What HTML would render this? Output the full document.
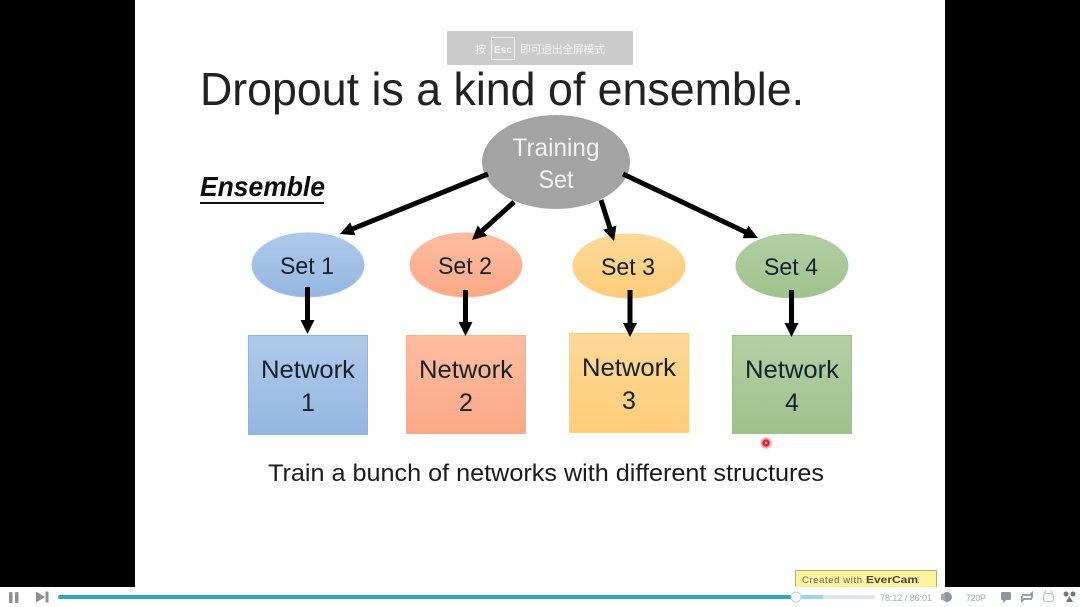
<!DOCTYPE html>
<html><head><meta charset="utf-8"><style>
html,body{margin:0;padding:0;background:#000;width:1080px;height:607px;overflow:hidden}
svg{display:block}
text{font-family:"Liberation Sans","Noto Sans CJK SC",sans-serif}
</style></head><body>
<svg width="1080" height="607" viewBox="0 0 1080 607" xmlns="http://www.w3.org/2000/svg">
<defs>
<linearGradient id="b" x1="0" y1="0" x2="0" y2="1"><stop offset="0" stop-color="#b0c9ea"/><stop offset="1" stop-color="#94b7e0"/></linearGradient>
<linearGradient id="o" x1="0" y1="0" x2="0" y2="1"><stop offset="0" stop-color="#fdbda0"/><stop offset="1" stop-color="#fca887"/></linearGradient>
<linearGradient id="y" x1="0" y1="0" x2="0" y2="1"><stop offset="0" stop-color="#fdd898"/><stop offset="1" stop-color="#fdcc78"/></linearGradient>
<linearGradient id="g" x1="0" y1="0" x2="0" y2="1"><stop offset="0" stop-color="#b2cfa4"/><stop offset="1" stop-color="#9ec28d"/></linearGradient>
<radialGradient id="dot"><stop offset="0.5" stop-color="#f0606e"/><stop offset="1" stop-color="#fff"/></radialGradient>
<marker id="ah" markerUnits="userSpaceOnUse" markerWidth="16" markerHeight="14" refX="1" refY="7" orient="auto"><path d="M0,0L14,7L0,14z" fill="#000"/></marker>
<filter id="soft" x="0" y="0" width="100%" height="100%"><feGaussianBlur stdDeviation="0.35"/></filter>
</defs>
<rect width="1080" height="607" fill="#000"/>
<g filter="url(#soft)">
<rect x="135" y="0" width="810" height="587" fill="#fff"/>

<text x="200" y="105" font-size="46" fill="#222" textLength="604" lengthAdjust="spacingAndGlyphs">Dropout is a kind of ensemble.</text>

<rect x="447" y="31" width="186" height="34" rx="1" fill="#cbcbcb"/>
<text x="475" y="53" font-size="11" fill="#f2f2f2">按</text>
<rect x="491.500" y="37.500" width="23" height="22" rx="1" fill="none" stroke="#eee"/>
<text x="503" y="53" font-size="10" font-weight="bold" fill="#f2f2f2" text-anchor="middle">Esc</text>
<text x="520" y="53" font-size="11" fill="#f2f2f2" textLength="85">即可退出全屏模式</text>

<text x="200" y="196" font-size="28" font-weight="bold" font-style="italic" fill="#111" textLength="125" lengthAdjust="spacingAndGlyphs">Ensemble</text>
<rect x="200" y="202" width="124" height="2" fill="#111"/>

<ellipse cx="556" cy="162" rx="74" ry="47" fill="#a3a3a3"/>
<text x="556" y="156" font-size="25" fill="#f2f2f2" text-anchor="middle" textLength="87" lengthAdjust="spacingAndGlyphs">Training</text>
<text x="556" y="188" font-size="25" fill="#f2f2f2" text-anchor="middle" textLength="35" lengthAdjust="spacingAndGlyphs">Set</text>

<ellipse cx="308" cy="265" rx="56" ry="32" fill="url(#b)" stroke="#a8c4e6"/>
<ellipse cx="466" cy="265" rx="56" ry="32" fill="url(#o)" stroke="#fbb89c"/>
<ellipse cx="629" cy="266" rx="56" ry="32" fill="url(#y)" stroke="#fbd48f"/>
<ellipse cx="792" cy="266" rx="56" ry="32" fill="url(#g)" stroke="#a9c89a"/>

<g font-size="24" fill="#15202c" text-anchor="middle">
<text x="307" y="274" textLength="54" lengthAdjust="spacingAndGlyphs">Set 1</text>
<text x="465" y="274" textLength="54" lengthAdjust="spacingAndGlyphs">Set 2</text>
<text x="628" y="275" textLength="54" lengthAdjust="spacingAndGlyphs">Set 3</text>
<text x="791" y="275" textLength="54" lengthAdjust="spacingAndGlyphs">Set 4</text>
</g>

<rect x="248.500" y="335.500" width="119" height="99" fill="url(#b)" stroke="#8fb3dc"/>
<rect x="406.500" y="335.500" width="119" height="98" fill="url(#o)" stroke="#fbb091"/>
<rect x="569.500" y="333.500" width="119" height="99" fill="url(#y)" stroke="#fbd083"/>
<rect x="732.500" y="335.500" width="119" height="98" fill="url(#g)" stroke="#9cbf8b"/>

<g font-size="25" fill="#15202c" text-anchor="middle">
<text x="308" y="378" textLength="94" lengthAdjust="spacingAndGlyphs">Network</text>
<text x="308" y="411">1</text>
<text x="466" y="378" textLength="94" lengthAdjust="spacingAndGlyphs">Network</text>
<text x="466" y="411">2</text>
<text x="629" y="376" textLength="94" lengthAdjust="spacingAndGlyphs">Network</text>
<text x="629" y="409">3</text>
<text x="792" y="378" textLength="94" lengthAdjust="spacingAndGlyphs">Network</text>
<text x="792" y="411">4</text>
</g>

<g stroke="#000" stroke-width="5" fill="none" marker-end="url(#ah)">
<line x1="488" y1="174" x2="352" y2="229.100"/>
<line x1="514" y1="202" x2="481.600" y2="231.300"/>
<line x1="601" y1="200" x2="610.100" y2="228.600"/>
<line x1="623" y1="174" x2="746.200" y2="232.400"/>
<line x1="307.500" y1="287" x2="307.500" y2="321"/>
<line x1="465.500" y1="290" x2="465.500" y2="323"/>
<line x1="630" y1="290" x2="630" y2="324"/>
<line x1="791.500" y1="290" x2="791.500" y2="324"/>
</g>

<text x="268" y="481" font-size="24" fill="#1a1a1a" textLength="556" lengthAdjust="spacingAndGlyphs">Train a bunch of networks with different structures</text>

<circle cx="766" cy="443" r="6.500" fill="url(#dot)"/>
<circle cx="766" cy="443" r="3" fill="#e8283c" stroke="#a01020" stroke-width="0.500"/>
<circle cx="766" cy="443" r="1.200" fill="#f8b0b8"/>

<rect x="795.500" y="570.500" width="141" height="20" fill="#fdf39c" stroke="#b5ae78"/>
<text x="802" y="583" font-size="9.500" fill="#666" textLength="60">Created with</text>
<text x="866" y="583" font-size="10.500" font-weight="bold" fill="#444" textLength="52" lengthAdjust="spacingAndGlyphs">EverCam</text>
<text x="917" y="583" font-size="10" fill="#777">.</text>

<rect x="0" y="587" width="1080" height="20" fill="#fff"/>
<rect x="9" y="592" width="3.500" height="11" rx="1" fill="#8f8f8f"/>
<rect x="15" y="592" width="3.500" height="11" rx="1" fill="#8f8f8f"/>
<path d="M36,591.500L45,597L36,602.500z" fill="#8f8f8f"/>
<rect x="45.500" y="591.500" width="3" height="11" fill="#8f8f8f"/>

<rect x="58" y="595" width="817" height="4" rx="2" fill="#e0e3e8"/>
<rect x="796" y="595" width="27" height="4" fill="#9ad6e6"/>
<rect x="58" y="595" width="738" height="4" rx="2" fill="#2ea4c9"/>
<circle cx="796" cy="597" r="5" fill="#fff" stroke="#a8dcea"/>

<text x="880" y="601" font-size="9" fill="#a5a9ae" textLength="52">78:12 / 86:01</text>
<circle cx="947" cy="597" r="5" fill="#8f969c"/>
<rect x="941" y="594" width="4" height="6" fill="#a5abb0"/>
<text x="966" y="601" font-size="9" fill="#a5a9ae" textLength="20">720P</text>

<rect x="1001" y="592" width="10" height="8" rx="1" fill="#8f969c"/>
<path d="M1003,600L1003,603L1006,600z" fill="#8f969c"/>
<path d="M1022,595h8l2,-2v5M1032,599h-8l-2,2v-5" fill="none" stroke="#8f969c" stroke-width="1.800"/>
<rect x="1043.500" y="593.500" width="10" height="8" rx="3" fill="none" stroke="#b5babf"/>
<path d="M1044,593l2,-2M1053,593l-2,-2" stroke="#b5babf"/>
<circle cx="1066" cy="594" r="2.500" fill="#6f767c"/>
<circle cx="1073" cy="594" r="2.500" fill="#6f767c"/>
<path d="M1069.500,596L1073,602H1066z" fill="#6f767c"/>
</g>
</svg>
</body></html>
